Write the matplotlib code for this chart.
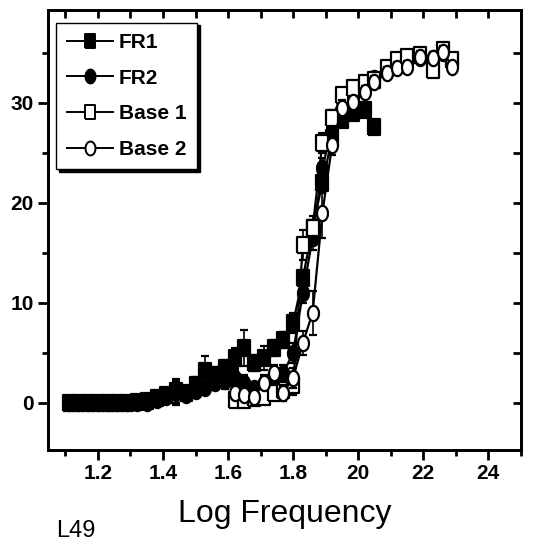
import numpy as np
import matplotlib
matplotlib.use("Agg")
import matplotlib.pyplot as plt
from matplotlib.ticker import FixedLocator, MultipleLocator
from matplotlib.lines import Line2D

plt.rcParams['font.family'] = ['Liberation Sans', 'DejaVu Sans']

# ---- data ----
x_fr1 = [1.11, 1.14, 1.17, 1.20, 1.23, 1.26, 1.29, 1.32, 1.35, 1.38, 1.41, 1.44, 1.47, 1.50,
         1.53, 1.56, 1.59, 1.62, 1.65, 1.68, 1.71, 1.74, 1.77, 1.80, 1.83, 1.86, 1.89, 1.92,
         1.95, 1.985, 2.02, 2.05]
y_fr1 = [0.0, 0.0, 0.0, 0.0, 0.0, 0.0, 0.0, 0.1, 0.2, 0.5, 0.8, 1.2, 1.0, 1.8,
         3.2, 2.8, 3.5, 4.5, 5.5, 4.0, 4.5, 5.5, 6.3, 8.0, 12.5, 17.5, 22.0, 26.5,
         28.3, 29.0, 29.3, 27.6]
e_fr1 = [0.2, 0.2, 0.2, 0.2, 0.2, 0.2, 0.2, 0.3, 0.3, 0.4, 0.5, 1.2, 0.5, 0.8,
         1.5, 0.8, 0.8, 1.0, 1.8, 0.8, 1.2, 0.8, 0.8, 1.0, 0.8, 0.8, 1.0, 0.8,
         0.6, 0.6, 0.6, 0.6]

x_fr2 = [1.11, 1.14, 1.17, 1.20, 1.23, 1.26, 1.29, 1.32, 1.35, 1.38, 1.41, 1.44, 1.47, 1.50,
         1.53, 1.56, 1.59, 1.62, 1.65, 1.68, 1.71, 1.74, 1.77, 1.80, 1.83, 1.86, 1.89, 1.92,
         1.95, 1.985, 2.02, 2.05, 2.09, 2.12, 2.15, 2.19, 2.23, 2.26, 2.29]
y_fr2 = [0.0, 0.0, 0.0, 0.0, 0.0, 0.0, 0.0, 0.0, 0.0, 0.3, 0.6, 1.0, 0.8, 1.2,
         1.5, 2.0, 2.2, 2.5, 2.0, 1.5, 2.0, 2.5, 3.0, 5.0, 11.0, 16.5, 23.5, 27.5,
         29.0, 30.5, 31.5, 32.5, 33.3, 33.8, 34.2, 34.5, 34.5, 35.0, 34.0]
e_fr2 = [0.2, 0.2, 0.2, 0.2, 0.2, 0.2, 0.2, 0.2, 0.2, 0.3, 0.5, 1.2, 0.5, 0.6,
         0.6, 0.7, 0.8, 0.8, 0.8, 0.6, 0.8, 0.8, 0.8, 1.0, 1.0, 1.2, 1.0, 0.8,
         0.6, 0.6, 0.6, 0.6, 0.6, 0.6, 0.6, 0.6, 0.6, 0.6, 0.6]

x_base = [1.62, 1.65, 1.68, 1.71, 1.74, 1.77, 1.80, 1.83, 1.86, 1.89, 1.92,
          1.95, 1.985, 2.02, 2.05, 2.09, 2.12, 2.15, 2.19, 2.23, 2.26, 2.29]
y_base1 = [0.3, 0.3, 0.5, 0.6, 1.0, 1.3, 1.8, 15.8, 17.5, 26.0, 28.5,
           30.8, 31.5, 32.0, 32.3, 33.5, 34.3, 34.6, 34.8, 33.3, 35.3, 34.3]
e_base1 = [0.4, 0.4, 0.5, 0.5, 0.6, 0.8, 1.0, 1.5, 1.2, 1.0, 0.8,
           0.6, 0.6, 0.6, 0.6, 0.6, 0.6, 0.6, 0.6, 0.6, 0.6, 0.6]
y_base2 = [1.0, 0.8, 0.6, 2.0, 3.0, 1.0, 2.5, 6.0, 9.0, 19.0, 25.8,
           29.5, 30.1, 31.1, 32.1, 33.0, 33.5, 33.6, 34.6, 34.5, 35.1, 33.6]
e_base2 = [0.5, 0.5, 0.5, 0.6, 0.8, 0.8, 1.0, 1.2, 2.2, 2.5, 1.0,
           0.8, 0.6, 0.6, 0.6, 0.6, 0.6, 0.6, 0.6, 0.6, 0.6, 0.6]

labels = ["FR1", "FR2", "Base 1", "Base 2"]
xticks = [1.2, 1.4, 1.6, 1.8, 2.0, 2.2, 2.4]
xticklabels = ["1.2", "1.4", "1.6", "1.8", "20", "22", "24"]
yticks = [0, 10, 20, 30]
yticklabels = ["0", "10", "20", "30"]

# ---- markers (slightly tall, as in the scan) ----
t = np.linspace(0, 2 * np.pi, 40)
ellipse = list(zip(0.72 * np.cos(t), np.sin(t)))
rect = [(-0.78, -1), (0.78, -1), (0.78, 1), (-0.78, 1), (-0.78, -1)]

fig = plt.figure(figsize=(5.38, 5.44), dpi=100)
ax = fig.add_axes([0.089, 0.173, 0.879, 0.809])

common = dict(color='black', lw=1.6, capsize=3, elinewidth=1.2, capthick=1.2,
              markeredgecolor='black', markeredgewidth=1.6, ms=11)
ax.errorbar(x_fr1, y_fr1, yerr=e_fr1, marker=rect, markerfacecolor='black', zorder=2, **common)
ax.errorbar(x_fr2, y_fr2, yerr=e_fr2, marker=ellipse, markerfacecolor='black', zorder=3, **common)
ax.errorbar(x_base, y_base1, yerr=e_base1, marker=rect, markerfacecolor='white', zorder=4, **common)
ax.errorbar(x_base, y_base2, yerr=e_base2, marker=ellipse, markerfacecolor='white', zorder=5, **common)

ax.set_xlim(1.046, 2.50)
ax.set_ylim(-4.7, 39.3)

for s in ax.spines.values():
    s.set_linewidth(2.0)

ax.xaxis.set_major_locator(FixedLocator(xticks))
ax.set_xticklabels(xticklabels)
ax.xaxis.set_minor_locator(FixedLocator([1.1, 1.3, 1.5, 1.7, 1.9, 2.1, 2.3, 2.5]))
ax.yaxis.set_major_locator(FixedLocator(yticks))
ax.set_yticklabels(yticklabels)
ax.yaxis.set_minor_locator(MultipleLocator(5))

ax.tick_params(axis='both', which='major', direction='out', length=7, width=2,
               labelsize=15, pad=3)
ax.tick_params(axis='both', which='minor', direction='out', length=4, width=2)
ax.tick_params(axis='x', which='both', top=False, labeltop=False)
ax.tick_params(axis='y', which='both', right=False, labelright=False)
for tl in ax.get_xticklabels() + ax.get_yticklabels():
    tl.set_fontweight('bold')

# top and right ticks point inward
ax2 = ax.twiny()
ax2.set_xlim(ax.get_xlim())
ax2.xaxis.set_major_locator(FixedLocator([1.1, 1.2, 1.3, 1.4, 1.5, 1.6, 1.7, 1.8, 1.9,
                                          2.0, 2.1, 2.2, 2.3, 2.4]))
ax2.tick_params(axis='x', direction='in', length=6, width=2, labeltop=False)
ax2.tick_params(axis='y', left=False, right=False, labelleft=False, labelright=False)
ax3 = ax.twinx()
ax3.set_ylim(ax.get_ylim())
ax3.yaxis.set_major_locator(MultipleLocator(5))
ax3.tick_params(axis='y', direction='in', length=6, width=2, labelright=False)
ax3.tick_params(axis='x', top=False, bottom=False, labelbottom=False, labeltop=False)
for a in (ax2, ax3):
    for s in a.spines.values():
        s.set_linewidth(2.0)

ax.set_xlabel("Log Frequency", fontsize=23, labelpad=12)

handles = [
    Line2D([], [], color='black', lw=1.4, marker=rect, ms=10, markerfacecolor='black',
           markeredgecolor='black', markeredgewidth=1.4),
    Line2D([], [], color='black', lw=1.4, marker=ellipse, ms=10, markerfacecolor='black',
           markeredgecolor='black', markeredgewidth=1.4),
    Line2D([], [], color='black', lw=1.4, marker=rect, ms=10, markerfacecolor='white',
           markeredgecolor='black', markeredgewidth=1.4),
    Line2D([], [], color='black', lw=1.4, marker=ellipse, ms=10, markerfacecolor='white',
           markeredgecolor='black', markeredgewidth=1.4),
]
leg = ax.legend(handles, labels, loc='upper left', bbox_to_anchor=(0.005, 0.985),
                numpoints=1, fontsize=15, frameon=True, fancybox=False,
                shadow={'color': 'black', 'alpha': 1.0},
                handlelength=2.2, handletextpad=0.3, borderpad=0.5,
                labelspacing=0.8, borderaxespad=0.3)
leg.get_frame().set_edgecolor('black')
leg.get_frame().set_linewidth(1.0)
leg.get_frame().set_alpha(1.0)
for txt in leg.get_texts():
    txt.set_fontweight('bold')
leg.set_zorder(10)
ax.set_zorder(ax3.get_zorder() + 1)
ax.patch.set_visible(False)

fig.text(0.105, 0.003, "L49", fontsize=17, va='bottom', ha='left')

fig.savefig("out.png", dpi=100)
